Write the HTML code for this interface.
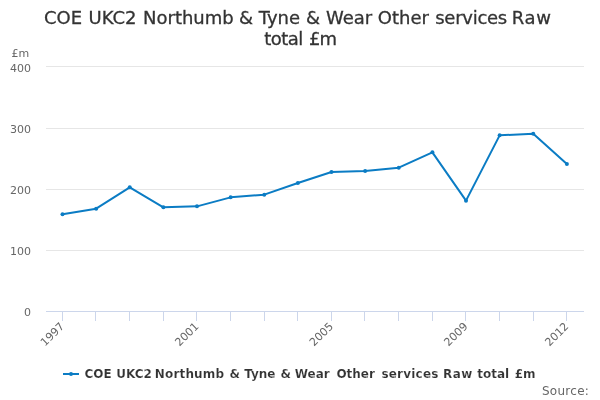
<!DOCTYPE html>
<html><head><meta charset="utf-8"><title>chart</title>
<style>
html,body{margin:0;padding:0;background:#fff;}
svg{display:block;will-change:transform;font-family:"DejaVu Sans","Liberation Sans",Verdana,sans-serif;}
.ax{font-size:11px;fill:#666666;}
.title{font-size:18px;fill:#333333;stroke:#333333;stroke-width:0.3px;}
.leg{font-size:12px;font-weight:bold;fill:#333333;stroke:#ffffff;stroke-width:0.15px;}
.src{font-size:12px;fill:#666666;}
</style></head><body>
<svg width="600" height="400" viewBox="0 0 600 400">
<rect x="0" y="0" width="600" height="400" fill="#FFFFFF"/>
<path d="M 46 66.5 L 584 66.5" stroke="#E6E6E6" stroke-width="1" fill="none"/>
<path d="M 46 128.5 L 584 128.5" stroke="#E6E6E6" stroke-width="1" fill="none"/>
<path d="M 46 189.5 L 584 189.5" stroke="#E6E6E6" stroke-width="1" fill="none"/>
<path d="M 46 250.5 L 584 250.5" stroke="#E6E6E6" stroke-width="1" fill="none"/>

<path d="M 46 311.5 L 584 311.5" stroke="#ccd6eb" stroke-width="1" fill="none"/>
<path d="M 62.5 312 L 62.5 321" stroke="#ccd6eb" stroke-width="1" fill="none"/>
<path d="M 95.5 312 L 95.5 321" stroke="#ccd6eb" stroke-width="1" fill="none"/>
<path d="M 129.5 312 L 129.5 321" stroke="#ccd6eb" stroke-width="1" fill="none"/>
<path d="M 163.5 312 L 163.5 321" stroke="#ccd6eb" stroke-width="1" fill="none"/>
<path d="M 196.5 312 L 196.5 321" stroke="#ccd6eb" stroke-width="1" fill="none"/>
<path d="M 230.5 312 L 230.5 321" stroke="#ccd6eb" stroke-width="1" fill="none"/>
<path d="M 264.5 312 L 264.5 321" stroke="#ccd6eb" stroke-width="1" fill="none"/>
<path d="M 297.5 312 L 297.5 321" stroke="#ccd6eb" stroke-width="1" fill="none"/>
<path d="M 331.5 312 L 331.5 321" stroke="#ccd6eb" stroke-width="1" fill="none"/>
<path d="M 364.5 312 L 364.5 321" stroke="#ccd6eb" stroke-width="1" fill="none"/>
<path d="M 398.5 312 L 398.5 321" stroke="#ccd6eb" stroke-width="1" fill="none"/>
<path d="M 432.5 312 L 432.5 321" stroke="#ccd6eb" stroke-width="1" fill="none"/>
<path d="M 465.5 312 L 465.5 321" stroke="#ccd6eb" stroke-width="1" fill="none"/>
<path d="M 499.5 312 L 499.5 321" stroke="#ccd6eb" stroke-width="1" fill="none"/>
<path d="M 533.5 312 L 533.5 321" stroke="#ccd6eb" stroke-width="1" fill="none"/>
<path d="M 566.5 312 L 566.5 321" stroke="#ccd6eb" stroke-width="1" fill="none"/>

<path d="M 62.51 214.35 L 96.14 208.65 L 129.76 187.35 L 163.39 207.35 L 197.01 206.35 L 230.64 197.35 L 264.26 194.65 L 297.89 183.05 L 331.51 172.05 L 365.14 171.05 L 398.76 167.65 L 432.39 152.35 L 466.01 200.65 L 499.64 135.35 L 533.26 133.65 L 566.89 164.05" stroke="#0B7CC4" stroke-width="2" fill="none" stroke-linejoin="round" stroke-linecap="round"/>
<circle cx="62.51" cy="214.35" r="2" fill="#0B7CC4"/><circle cx="96.14" cy="208.65" r="2" fill="#0B7CC4"/><circle cx="129.76" cy="187.35" r="2" fill="#0B7CC4"/><circle cx="163.39" cy="207.35" r="2" fill="#0B7CC4"/><circle cx="197.01" cy="206.35" r="2" fill="#0B7CC4"/><circle cx="230.64" cy="197.35" r="2" fill="#0B7CC4"/><circle cx="264.26" cy="194.65" r="2" fill="#0B7CC4"/><circle cx="297.89" cy="183.05" r="2" fill="#0B7CC4"/><circle cx="331.51" cy="172.05" r="2" fill="#0B7CC4"/><circle cx="365.14" cy="171.05" r="2" fill="#0B7CC4"/><circle cx="398.76" cy="167.65" r="2" fill="#0B7CC4"/><circle cx="432.39" cy="152.35" r="2" fill="#0B7CC4"/><circle cx="466.01" cy="200.65" r="2" fill="#0B7CC4"/><circle cx="499.64" cy="135.35" r="2" fill="#0B7CC4"/><circle cx="533.26" cy="133.65" r="2" fill="#0B7CC4"/><circle cx="566.89" cy="164.05" r="2" fill="#0B7CC4"/>
<text y="23.6" class="title"><tspan x="44">COE</tspan> <tspan x="88.5">UKC2</tspan> <tspan x="143">Northumb</tspan> <tspan x="239">&amp;</tspan> <tspan x="258.75">Tyne</tspan> <tspan x="306">&amp;</tspan> <tspan x="326">Wear</tspan> <tspan x="377.75">Other</tspan> <tspan x="435.25" textLength="72" lengthAdjust="spacing">services</tspan> <tspan x="511.75" textLength="39.2" lengthAdjust="spacing">Raw</tspan></text>
<text y="44.6" class="title"><tspan x="264.3" textLength="39" lengthAdjust="spacing">total</tspan> <tspan x="309" textLength="28" lengthAdjust="spacing">£m</tspan></text>
<text x="11.5" y="56.5" class="ax">£m</text>
<text x="31" y="71.5" text-anchor="end" class="ax">400</text>
<text x="31" y="133" text-anchor="end" class="ax">300</text>
<text x="31" y="194" text-anchor="end" class="ax">200</text>
<text x="31" y="255" text-anchor="end" class="ax">100</text>
<text x="31" y="316" text-anchor="end" class="ax">0</text>

<text x="64.9" y="327" text-anchor="end" class="ax" transform="rotate(-45 64.9 327)">1997</text>
<text x="199.4" y="327" text-anchor="end" class="ax" transform="rotate(-45 199.4 327)">2001</text>
<text x="333.9" y="327" text-anchor="end" class="ax" transform="rotate(-45 333.9 327)">2005</text>
<text x="468.4" y="327" text-anchor="end" class="ax" transform="rotate(-45 468.4 327)">2009</text>
<text x="569.3" y="327" text-anchor="end" class="ax" transform="rotate(-45 569.3 327)">2012</text>

<path d="M 63 374 L 79 374" stroke="#0B7CC4" stroke-width="2" fill="none"/>
<circle cx="71" cy="374" r="2" fill="#0B7CC4"/>
<text y="378" class="leg"><tspan x="84.5">COE</tspan> <tspan x="116.2">UKC2</tspan> <tspan x="154.8" textLength="69.3" lengthAdjust="spacing">Northumb</tspan> <tspan x="229.6">&amp;</tspan> <tspan x="244.2">Tyne</tspan> <tspan x="280.4">&amp;</tspan> <tspan x="294.7">Wear</tspan> <tspan x="336.4">Other</tspan> <tspan x="381.4" textLength="57" lengthAdjust="spacing">services</tspan> <tspan x="443" textLength="29.4" lengthAdjust="spacing">Raw</tspan> <tspan x="477.3">total</tspan> <tspan x="514.7">£m</tspan></text>
<text x="541.9" y="394.75" textLength="47" lengthAdjust="spacing" class="src">Source:</text>
</svg>
</body></html>
